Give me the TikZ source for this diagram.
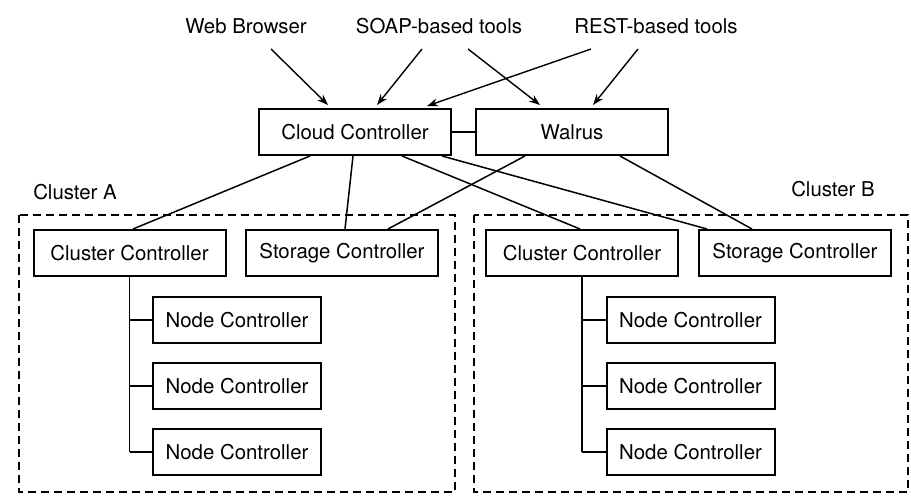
\documentclass[tikz,border=0pt]{standalone}
\usepackage{fontspec}
\setmainfont{TeX Gyre Heros}
\usetikzlibrary{arrows.meta,calc}

\begin{document}
\begin{tikzpicture}[x=0.5pt,y=-0.5pt,font=\fontsize{10.2}{12}\selectfont,
	box/.style={draw,line width=1pt,minimum width=96pt,minimum height=23pt,inner sep=0pt},
	nodebox/.style={box,minimum width=84pt},
	link/.style={line width=0.75pt},
	feed/.style={line width=0.7pt,-{Stealth[length=5.5pt,width=4pt]}},
	cluster/.style={line width=1pt,dash pattern=on 4pt off 2.5pt}]
	\useasboundingbox (0,0) rectangle (911,496);

	% clients
	\node (wb) at (246,26) {Web Browser};
	\node (soap) at (439,26) {SOAP-based tools};
	\node (rest) at (656,26) {REST-based tools};

	% cloud level
	\node[box] (cc) at (355,132) {Cloud Controller};
	\node[box] (wal) at (572,132) {Walrus};
	\draw[link] (cc) -- (wal);

	% clusters
	\draw[cluster] (19,215) rectangle (455,492);
	\draw[cluster] (474,215) rectangle (908,492);
	\node (labA) at (75,192) {Cluster A};
	\node (labB) at (833,189) {Cluster B};

	\node[box] (ccA) at (129.5,253) {Cluster Controller};
	\node[box] (scA) at (342,253) {Storage Controller};
	\node[box] (ccB) at (582,253) {Cluster Controller};
	\node[box] (scB) at (795,253) {Storage Controller};

	\foreach \i / \y in {1/320,2/386,3/452} {
		\node[nodebox] (ncA\i) at (237,\y) {Node Controller};
		\node[nodebox] (ncB\i) at (690.5,\y) {Node Controller};
		\draw[link] (ccA.south |- ncA\i.west) -- (ncA\i.west);
		\draw[link] (ccB.south |- ncB\i.west) -- (ncB\i.west);
	}
	\draw[link] (ccA.south) -- (ccA.south |- ncA3.west);
	\draw[link] (ccB.south) -- (ccB.south |- ncB3.west);

	% requests from the tools
	\draw[feed] ($(wb.center)+(25,23)$) -- ($(cc.north)+(-27,-3)$);
	\draw[feed] ($(soap.center)+(-17,23)$) -- ($(cc.north)+(22,-3)$);
	\draw[feed] ($(soap.center)+(29,23)$) -- ($(wal.north)+(-32,-3)$);
	\draw[feed] ($(rest.center)+(-65,23)$) -- ($(cc.north)+(72,-2)$);
	\draw[feed] ($(rest.center)+(-18,23)$) -- ($(wal.north)+(21,-3)$);

	% links down to the clusters
	\draw[link] ($(cc.south)+(-45,0)$) -- ($(ccA.north)+(3.5,0)$);
	\draw[link] ($(cc.south)+(-2,0)$) -- ($(scA.north)+(3,0)$);
	\draw[link] ($(cc.south)+(47,0)$) -- ($(ccB.north)+(-2,0)$);
	\draw[link] ($(cc.south)+(87,0)$) -- ($(scB.north)+(-88,0)$);
	\draw[link] ($(wal.south)+(-47,0)$) -- ($(scA.north)+(46,0)$);
	\draw[link] ($(wal.south)+(48,0)$) -- ($(scB.north)+(-43,0)$);
\end{tikzpicture}
\end{document}
